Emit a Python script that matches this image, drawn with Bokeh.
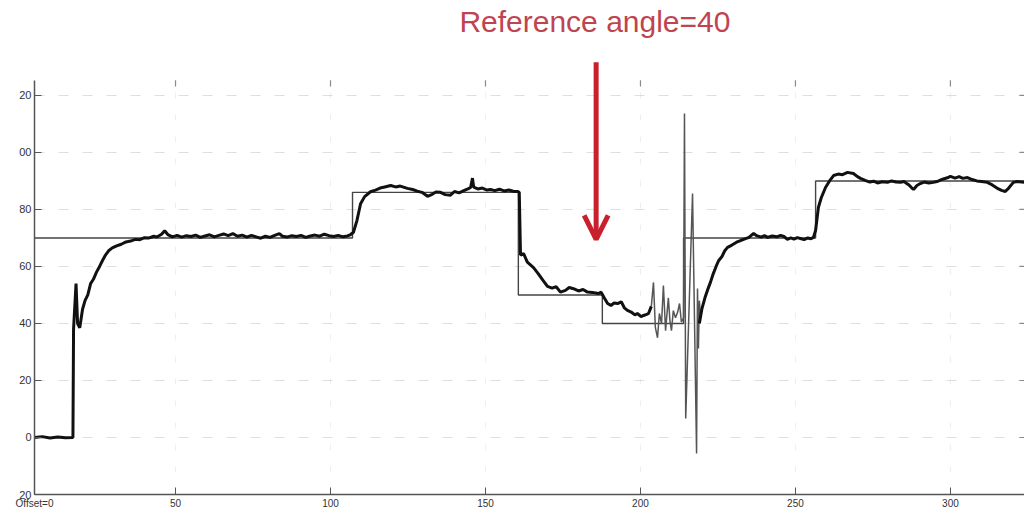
from bokeh.plotting import figure
from bokeh.models import Range1d, FixedTicker, Label, Arrow, OpenHead
from bokeh.embed import file_html
from bokeh.resources import INLINE

# Setpoint (reference) steps
sp_x = [4.5, 107.1, 160.6, 187.7, 213.9, 256.5, 323.9]
sp_y = [70, 86, 50, 40, 70, 90, 90]

# Measured angle, first part (thick)
m1_x = [4.5, 7, 9.5, 12, 14.5, 16.9, 17.1, 17.9, 18.4, 19.1, 20.0, 20.8, 21.7, 22.6, 23.5, 24.5,
        25.5, 26.4, 27.4, 28.4, 29.6, 31.0, 32.5, 34.0, 35.5, 37.0, 38.5, 40.0, 41.5, 43.0, 44.0,
        45.5, 46.5, 47.5, 49.0, 50.5, 52.0, 53.5, 55.0, 56.5, 58.0, 59.5, 61.0, 62.5, 64.0, 65.5,
        67.0, 68.5, 70.0, 71.5, 73.0, 74.5, 76.0, 77.5, 79.0, 80.5, 82.0, 83.5, 84.5, 86.0, 87.5,
        89.0, 90.5, 92.0, 93.5, 95.0, 96.5, 98.0, 99.5, 101.0, 102.5, 104.0, 105.5, 106.5, 107.4,
        108.5, 109.7, 111.0, 112.9, 114.5, 116.0, 117.5, 119.4, 121.0, 122.5, 124.8, 126.5, 128.0,
        129.5, 131.3, 132.8, 134.0, 135.5, 137.0, 138.7, 140.0, 141.5, 143.0, 144.5, 145.2, 145.8,
        146.2, 147.5, 149.0, 150.5, 151.6, 153.0, 154.5, 156.0, 157.5, 159.0, 160.3, 160.9, 161.3,
        162.3, 163.5, 165.5, 167.0, 168.5, 170.0, 171.5, 172.8, 174.2, 175.8, 177.0, 178.4, 180.0,
        181.5, 182.9, 184.5, 186.5, 187.3, 188.3, 189.4, 190.5, 191.5, 192.6, 193.8, 194.8, 195.8,
        197.0, 198.2, 199.0, 200.2, 201.0, 202.0, 202.6, 203.5]
m1_y = [0.0, 0.3, -0.2, 0.2, -0.1, 0.0, 38, 54, 40, 38.5, 45, 48, 50, 54, 55.5, 58,
        60, 62, 64, 65.5, 66.5, 67.2, 67.8, 68.6, 68.9, 69.5, 69.4, 70.1, 70.0, 70.6, 70.3,
        71.3, 72.5, 71.2, 70.4, 70.9, 70.3, 70.8, 70.5, 71.0, 70.2, 70.7, 71.1, 70.4, 70.9, 71.4,
        70.8, 71.5, 70.6, 71.0, 70.3, 70.9, 70.4, 69.9, 70.6, 70.2, 70.9, 71.5, 70.6, 70.3, 70.8,
        70.5, 70.9, 70.2, 70.7, 71.0, 70.6, 71.3, 70.8, 70.5, 70.9, 70.4, 70.7, 71.2, 72.0,
        76, 82, 84.5, 86.2, 86.8, 87.5, 87.9, 88.4, 87.9, 88.2, 87.4, 87.0, 86.4,
        86.0, 84.6, 85.3, 86.1, 86.0, 85.2, 85.0, 86.3, 85.8, 86.6, 87.3, 87.7, 91.0,
        87.8, 87.2, 87.5, 86.8, 87.0, 86.6, 87.1, 86.5, 86.8, 86.4, 86.3, 86.0, 64.0,
        64.5, 61.5, 59.6, 57.5, 55.2, 53.0, 52.4, 52.9, 51.0, 51.6, 52.6, 52.2, 51.4,
        51.9, 51.0, 50.9, 50.5, 51.0, 49.0, 47.0, 46.3, 47.2, 47.0, 47.6, 45.5, 44.6,
        44.0, 43.0, 43.5, 42.4, 42.8, 43.2, 43.5, 46.0]

# Oscillation part (thin)
os_x = [203.5, 204.2, 204.8, 205.5, 206.1, 206.8, 207.4, 208.1, 208.6, 209.0, 209.5, 210.0,
        210.6, 211.3, 212.0, 212.6, 213.2, 213.9, 214.2, 214.6, 216.8, 218.1, 218.4, 218.7,
        219.0, 219.4]
os_y = [46.0, 54.4, 38.6, 35.0, 43.5, 40.0, 53.3, 37.5, 44.0, 49.0, 41.0, 37.5,
        44.5, 42.0, 44.0, 47.0, 40.5, 42.0, 113.7, 6.7, 85.6, -5.6, 52.3, 31.2,
        48.0, 42.0]

# Measured angle, second part (thick)
m2_x = [219.0, 219.8, 220.8, 221.6, 222.6, 223.5, 224.4, 225.2, 226.3, 227.2, 228.1, 229.5,
        231.0, 232.3, 233.5, 235.0, 236.5, 237.5, 239.0, 240.0, 241.0, 242.5, 244.0, 245.2,
        246.3, 247.4, 248.5, 249.5, 250.6, 251.6, 252.8, 254.0, 255.0, 255.8, 256.5, 257.4,
        258.3, 259.7, 261.0, 262.3, 263.8, 265.2, 266.8, 268.7, 270.0, 271.0, 272.5, 274.0,
        275.2, 276.5, 278.0, 279.7, 281.0, 282.5, 283.9, 285.0, 286.5, 287.5, 288.1, 289.2,
        290.3, 291.5, 293.0, 294.5, 296.0, 297.5, 299.0, 300.0, 301.5, 302.8, 304.0, 305.5,
        307.0, 308.5, 310.0, 311.9, 313.5, 315.0, 316.5, 317.7, 318.8, 320.3, 321.5, 323.9]
m2_y = [40.0, 45.0, 49.0, 51.6, 54.5, 57.5, 60.0, 62.0, 63.5, 65.5, 66.7, 67.5,
        68.5, 69.1, 69.6, 70.2, 71.6, 70.8, 70.3, 70.8, 70.2, 70.7, 70.4, 70.9,
        70.5, 69.5, 70.0, 69.6, 70.1, 69.8, 69.4, 70.0, 69.7, 70.2, 72.6, 80.7,
        84.0, 87.7, 90.0, 91.9, 92.4, 92.2, 93.0, 92.6, 91.5, 90.9, 90.2, 89.6,
        89.9, 89.3, 89.7, 89.5, 90.0, 89.6, 89.5, 89.8, 88.7, 87.6, 87.0, 88.4,
        89.1, 89.6, 89.3, 89.5, 89.9, 90.6, 91.1, 91.6, 91.0, 91.5, 90.9, 91.2,
        90.5, 90.0, 89.8, 89.5, 88.6, 87.5, 86.7, 86.3, 87.5, 89.5, 89.8, 89.5]

y_ticks = [-20, 0, 20, 40, 60, 80, 100, 120]
y_tick_labels = {-20: "20", 0: "0", 20: "20", 40: "40", 60: "60", 80: "80", 100: "00", 120: "20"}
x_ticks = [50, 100, 150, 200, 250, 300]
x_origin = 4.5
x_tick_labels = {4.5: "Offset=0"}

title_text = "Reference angle=40"

X0, X1 = 4.5, 323.9
Y0, YAXIS_TOP, Y1 = -20, 125.3, 153.3

p = figure(width=1024, height=516, x_range=Range1d(X0, X1), y_range=Range1d(Y0, Y1),
           output_backend="svg", toolbar_location=None,
           min_border_left=34, min_border_right=0, min_border_top=0, min_border_bottom=22)
p.outline_line_color = None
p.background_fill_color = "white"

# grids
p.ygrid.ticker = FixedTicker(ticks=y_ticks)
p.ygrid.grid_line_color = "#c4c4c4"
p.ygrid.grid_line_dash = "10 14"
p.ygrid.grid_line_alpha = 0.55
p.xgrid.visible = False
p.segment(x0=x_ticks, y0=[Y0] * len(x_ticks), x1=x_ticks, y1=[YAXIS_TOP] * len(x_ticks),
          line_color="#cfcfcf", line_dash="6 16", line_alpha=0.35, line_width=1)

# axes
for ax in (p.xaxis[0], p.yaxis[0]):
    ax.axis_line_color = "#555555"
    ax.axis_line_width = 1.5
    ax.major_tick_line_color = "#555555"
    ax.major_tick_in = 7
    ax.major_tick_out = 0
    ax.minor_tick_line_color = None
    ax.major_label_text_font = "Liberation Sans"
    ax.major_label_text_color = "#333333"
    ax.major_label_standoff = 3
p.yaxis[0].major_label_text_font_size = "11px"
p.xaxis[0].major_label_text_font_size = "10px"
p.yaxis[0].ticker = FixedTicker(ticks=y_ticks)
p.yaxis[0].major_label_overrides = y_tick_labels
p.yaxis[0].bounds = (Y0, YAXIS_TOP)
p.xaxis[0].ticker = FixedTicker(ticks=[x_origin] + x_ticks)
p.xaxis[0].major_label_overrides = x_tick_labels

# top and right tick marks (no axis line)
p.segment(x0=x_ticks, y0=[YAXIS_TOP] * len(x_ticks), x1=x_ticks, y1=[YAXIS_TOP - 2.2] * len(x_ticks),
          line_color="#8a8a8a", line_width=1.2)
p.segment(x0=[X1 - 1.6] * len(y_ticks), y0=y_ticks, x1=[X1] * len(y_ticks), y1=y_ticks,
          line_color="#8a8a8a", line_width=1.2)

# series
p.step(sp_x, sp_y, mode="after", line_color="#444444", line_width=1.4)
p.line(os_x, os_y, line_color="#555555", line_width=1.5)
p.line(m1_x, m1_y, line_color="#111111", line_width=3)
p.line(m2_x, m2_y, line_color="#111111", line_width=3)

# annotations
p.add_layout(Label(x=185.3, y=146.0, text=title_text, text_color="#c0444f",
                   text_font="Liberation Sans", text_font_size="30px",
                   text_align="center", text_baseline="alphabetic"))
p.add_layout(Arrow(end=OpenHead(size=24, line_color="#c8202c", line_width=5),
                   x_start=185.7, y_start=131.6, x_end=185.7, y_end=69.5,
                   line_color="#c8202c", line_width=5))

open("out.html", "w").write(file_html(p, INLINE))
